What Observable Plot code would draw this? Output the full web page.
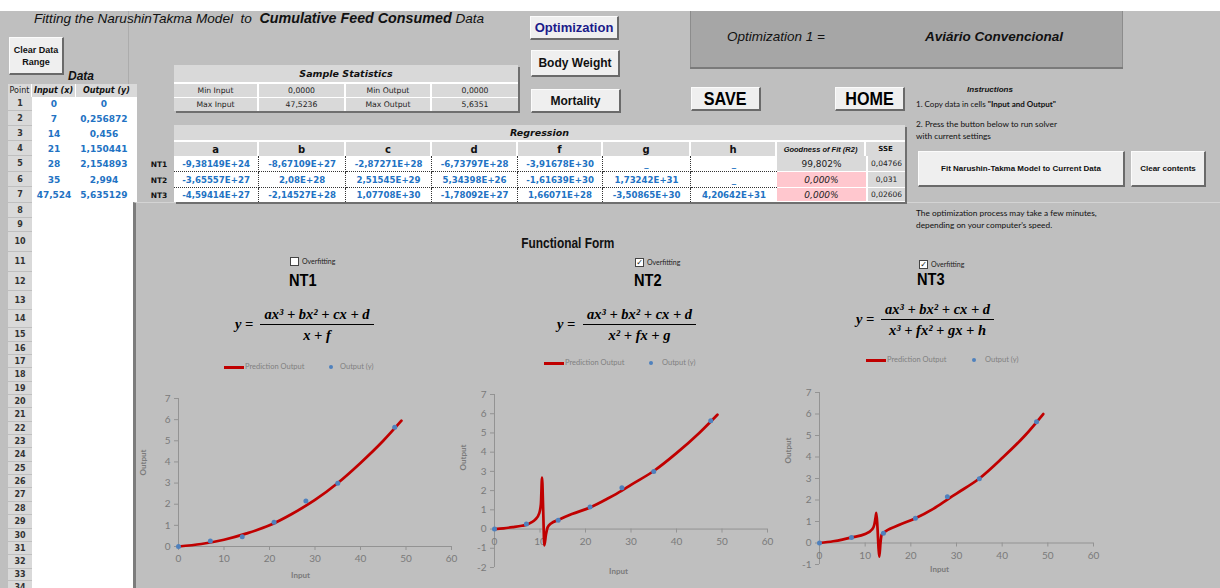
<!DOCTYPE html>
<html>
<head>
<meta charset="utf-8">
<script src="https://cdn.jsdelivr.net/npm/d3@7"></script>
<script src="https://cdn.jsdelivr.net/npm/@observablehq/plot@0.6"></script>
<style>
 html,body{margin:0;padding:0;background:#fff;}
 #page{position:relative;width:1220px;height:588px;overflow:hidden;background:#fff;}
 .a{position:absolute;box-sizing:border-box;white-space:nowrap;}
 .c{display:flex;align-items:center;justify-content:center;}
 .btn{background:#efefef;border-top:1px solid #fbfbfb;border-left:1px solid #fbfbfb;border-right:2px solid #6a6a6a;border-bottom:2px solid #6a6a6a;}
 .nr{display:inline-block;transform:scaleX(0.85);}
 .nl{display:inline-block;transform:scaleX(0.86);transform-origin:left center;}
</style>
</head>
<body>
<div id="page"></div>
<script>
// ---------------- data ----------------
const rowNumbers = d3.range(1, 35);
const inputX = [0, 7, 14, 21, 28, 35, 47.5236];
const outputY = [0, 0.256872, 0.456, 1.150441, 2.154893, 2.994, 5.635129];
const inputLabels = ["0", "7", "14", "21", "28", "35", "47,524"];
const outputLabels = ["0", "0,256872", "0,456", "1,150441", "2,154893", "2,994", "5,635129"];
const statNames = [["Min Input", "Min Output"], ["Max Input", "Max Output"]];
const statValues = [["0,0000", "0,0000"], ["47,5236", "5,6351"]];
const paramNames = ["a", "b", "c", "d", "f", "g", "h"];
const modelNames = ["NT1", "NT2", "NT3"];
const paramsNT1 = ["-9,38149E+24", "-8,67109E+27", "-2,87271E+28", "-6,73797E+28", "-3,91678E+30", "_", "_"];
const paramsNT2 = ["-3,65557E+27", "2,08E+28", "2,51545E+29", "5,34398E+26", "-1,61639E+30", "1,73242E+31", "_"];
const paramsNT3 = ["-4,59414E+27", "-2,14527E+28", "1,07708E+30", "-1,78092E+27", "1,66071E+28", "-3,50865E+30", "4,20642E+31"];
const goodnessOfFit = ["99,802%", "0,000%", "0,000%"];
const sseValues = ["0,04766", "0,031", "0,02606"];
const xTicks = [0, 10, 20, 30, 40, 50, 60];
const yTicksNT1 = [0, 1, 2, 3, 4, 5, 6, 7];
const yTicksNT2 = [-2, -1, 0, 1, 2, 3, 4, 5, 6, 7];
const yTicksNT3 = [-1, 0, 1, 2, 3, 4, 5, 6, 7];
const curveNT1X = [0, 5, 10, 15, 20, 25, 30, 35, 40, 45, 49];
const curveNT1Y = [0, 0.12, 0.32, 0.62, 1.0, 1.55, 2.2, 3.0, 3.95, 5.0, 5.95];
const curveNT2X = [0, 2, 4, 6, 7, 8, 9, 9.8, 10.2, 10.45, 10.7, 10.95, 11.3, 11.7, 12.5, 14, 17, 21, 25, 28, 30, 35, 40, 45, 49];
const curveNT2Y = [0, 0.04, 0.1, 0.17, 0.22, 0.33, 0.5, 0.8, 1.3, 2.68, 1.0, -0.85, -0.3, 0.1, 0.3, 0.47, 0.78, 1.12, 1.6, 2.0, 2.3, 3.02, 3.95, 5.0, 5.95];
const curveNT3X = [0, 3, 5, 7, 10, 11.5, 12, 12.25, 12.45, 12.7, 12.95, 13.1, 13.35, 13.6, 14, 17, 21, 25, 28, 30, 35, 40, 45, 49];
const curveNT3Y = [0, 0.08, 0.16, 0.26, 0.42, 0.63, 0.85, 1.15, 1.4, 0.7, -0.3, -0.63, 0.0, 0.38, 0.47, 0.8, 1.15, 1.6, 2.02, 2.3, 3.0, 3.95, 5.0, 6.0];

// ---------------- layout helpers ----------------
const page = document.getElementById("page");
function box(x, y, w, h, css = "", html = "", cls = "") {
  const d = document.createElement("div");
  d.className = "a " + cls;
  d.style.cssText = `left:${x}px;top:${y}px;width:${w}px;height:${h}px;` + css;
  d.innerHTML = html;
  page.appendChild(d);
  return d;
}
const VS = "'DejaVu Sans',Verdana,sans-serif";
const AR = "'Liberation Sans',Arial,sans-serif";
const NAR = "'Liberation Sans Narrow','Arial Narrow','Liberation Sans',sans-serif";
const CAL = "Lato,'Open Sans',sans-serif";
const SER = "'Liberation Serif','Times New Roman',serif";
const BLUE = "#2272c3";
const nr = t => `<span class="nr">${t}</span>`;
const nl = t => `<span class="nl">${t}</span>`;

// background
box(0, 11, 1220, 577, "background:#bfbfbf");
box(128, 11, 1, 73, "background:#acacac");

// title
box(34, 10, 520, 17, `font:italic 13.6px/17px ${AR};color:#111`,
  "Fitting the NarushinTakma Model&nbsp; to&nbsp; <b style='font-size:14.3px'>Cumulative Feed Consumed</b> Data");

// left panel
box(9, 37, 55, 38, `font:bold 9px/12px ${AR};text-align:center;flex-direction:column;color:#111`, "Clear Data<br>Range", "c btn");
box(68, 69, 40, 14, `font:bold italic 12px/14px ${AR};color:#111`, "Data");
box(8, 84, 129, 13, "background:#fff");
box(8, 84, 23, 13, `background:#d9d9d9;font:8px ${VS};color:#222`, "Point", "c");
box(32, 84, 43, 13, `background:#d9d9d9;font:bold italic 8px ${VS};color:#111`, "Input (x)", "c");
box(76, 84, 61, 13, `background:#d9d9d9;font:bold italic 8px ${VS};color:#111`, "Output (y)", "c");
box(32, 97, 105, 106, "background:#fff");
box(32, 203, 101, 385, "background:#fff");
box(133, 202, 1100, 400, "border-left:3px solid #7c7c7c;border-top:1px solid #d4d4d4");

const ROW_TOPS = [97,111,126,141,156,172,187,203,218,232,252,272,291,310,328,342,355,368,382,395,408,422,435,448,462,475,488,502,515,529,542,555,569,581,594];
rowNumbers.forEach((n, i) => {
  const h = ROW_TOPS[i + 1] - ROW_TOPS[i] - 1;
  box(8, ROW_TOPS[i], 24, h, `background:#d9d9d9;font:bold 8px ${VS};color:#333`, String(n), "c");
});
inputLabels.forEach((t, i) => {
  const h = ROW_TOPS[i + 1] - ROW_TOPS[i];
  box(32, ROW_TOPS[i], 44, h, `font:bold 9px ${VS};color:${BLUE}`, t, "c");
  box(74, ROW_TOPS[i], 60, h, `font:bold 9px ${VS};color:${BLUE}`, outputLabels[i], "c");
});

// sample statistics
box(174, 65, 344, 46, "background:#d9d9d9;box-shadow:2px 2px 0 #6f6f6f");
box(174, 65, 344, 19, `font:bold italic 9.5px ${VS};color:#111;border-bottom:2px solid #fff`, "Sample Statistics", "c");
const sCols = [174, 259, 346, 432, 518];
const sRows = [84, 98, 111];
for (let r = 0; r < 2; r++) {
  for (let c = 0; c < 4; c++) {
    const t = c % 2 === 0 ? statNames[r][c / 2] : statValues[r][(c - 1) / 2];
    const br = c < 3 ? "border-right:2px solid #fff;" : "";
    const bb = r === 0 ? "border-bottom:1px solid #fff;" : "";
    box(sCols[c], sRows[r], sCols[c + 1] - sCols[c], sRows[r + 1] - sRows[r], `${br}${bb}font:7.7px ${VS};color:#222`, t, "c");
  }
}

// regression table
const rCols = [174, 259, 346, 432, 518, 603, 691, 777, 866, 905];
const rRows = [156, 172, 188, 202];
box(174, 125, 731, 77, "background:#d9d9d9;box-shadow:2px 2px 0 #6f6f6f");
box(174, 125, 731, 17, `font:bold italic 9.5px ${VS};color:#111;border-bottom:2px solid #fff`, "Regression", "c");
const headers = [...paramNames, "Goodness of Fit (R2)", "SSE"];
headers.forEach((t, c) => {
  let font = `font:bold 10px ${VS};color:#111`;
  if (c === 7) font = `font:bold italic 7.5px ${AR};color:#111`;
  if (c === 8) font = `font:bold 7px ${VS};color:#111`;
  const br = c < 8 ? "border-right:2px solid #fff;" : "";
  box(rCols[c], 142, rCols[c + 1] - rCols[c], 14, br + font, t, "c");
});
const allParams = [paramsNT1, paramsNT2, paramsNT3];
modelNames.forEach((m, r) => {
  const y = rRows[r], h = rRows[r + 1] - rRows[r];
  box(146, y, 26, h, `font:bold 7.5px ${VS};color:#111`, m, "c");
  allParams[r].forEach((t, c) => {
    const br = c < 6 ? "border-right:1px dotted #333;" : "";
    const bb = r < 2 ? "border-bottom:1px dotted #333;" : "";
    box(rCols[c], y, rCols[c + 1] - rCols[c], h, `background:#fff;${br}${bb}font:bold 8.6px ${VS};color:${BLUE}`, t, "c");
  });
  const bg = r === 0 ? "#d9d9d9" : "#ffc7ce";
  const it = r === 0 ? "" : "italic ";
  box(rCols[7], y, rCols[8] - rCols[7], h, `background:${bg};border-bottom:1px solid #fff;font:${it}9px ${VS};color:#222`, goodnessOfFit[r], "c");
  box(rCols[8], y, rCols[9] - rCols[8], h, `background:#d9d9d9;border-left:2px solid #fff;border-bottom:1px solid #fff;font:7.5px ${VS};color:#222`, sseValues[r], "c");
});

// top buttons and box
box(530, 16, 89, 24, `font:bold 13px ${AR};color:#1b1b8a`, "Optimization", "c btn");
box(531, 50, 89, 27, `font:bold 12px ${AR};color:#111`, "Body Weight", "c btn");
box(531, 89, 90, 24, `font:bold 12px ${AR};color:#111`, "Mortality", "c btn");
box(690, 11, 433, 56, "background:#a6a6a6;border-left:1px solid #8c8c8c;border-right:1px solid #8c8c8c;box-shadow:0 2px 0 #7a7a7a");
box(727, 28, 130, 18, `font:italic 13.5px/18px ${AR};color:#111`, "Optimization 1 =");
box(925, 28, 190, 18, `font:bold italic 13.5px/18px ${AR};color:#111`, "Aviário Convencional");
box(691, 87, 70, 24, `font:bold 19px ${NAR};color:#000`, nr("SAVE"), "c btn");
box(835, 87, 70, 24, `font:bold 19px ${NAR};color:#000`, nr("HOME"), "c btn");

// instructions
box(940, 84, 100, 12, `font:bold italic 8px/12px ${AR};text-align:center;color:#111`, "Instructions");
box(916, 98, 260, 12, `font:8px/12px ${CAL};color:#111`, '1. Copy data in cells <b>"Input and Output"</b>');
box(916, 118, 260, 12, `font:8.3px/12px ${CAL};color:#111`, "2. Press the button below to run solver");
box(916, 130, 260, 12, `font:8.3px/12px ${CAL};color:#111`, "with current settings");
box(918, 151, 207, 36, `font:bold 8px ${AR};color:#111`, "Fit Narushin-Takma Model to Current Data", "c btn");
box(1131, 151, 75, 36, `font:bold 8px ${AR};color:#111`, "Clear contents", "c btn");
box(916, 207, 300, 12, `font:8.3px/12px ${CAL};color:#111`, "The optimization process may take a few minutes,");
box(916, 219, 300, 12, `font:8.3px/12px ${CAL};color:#111`, "depending on your computer's speed.");

// functional form
box(468, 235, 200, 16, `font:bold 14px/16px ${NAR};text-align:center;color:#111`, nr("Functional Form"));
function checkbox(x, y, checked) {
  box(x, y, 9, 9, `background:#fff;border:1px solid #444;font:bold 8px/7px ${VS};text-align:center;color:#111`, checked ? "✓" : "");
  box(x + 12, y - 2, 50, 12, `font:7px/12px ${CAL};color:#222`, "Overfitting");
}
checkbox(290, 257, false);
checkbox(635, 258, true);
checkbox(919, 260, true);
box(289, 271, 40, 20, `font:bold 17px/20px ${NAR};color:#000`, nl(modelNames[0]));
box(634, 271, 40, 20, `font:bold 17px/20px ${NAR};color:#000`, nl(modelNames[1]));
box(917, 270, 40, 20, `font:bold 17px/20px ${NAR};color:#000`, nl(modelNames[2]));

function formula(xY, xF, wF, yBar, num, den) {
  const f = `font:bold italic 14.5px/20px ${SER};color:#000;`;
  box(xY, yBar - 10, 26, 20, f, "y =");
  const d = box(xF, yBar - 20, wF, 41, f + "display:flex;flex-direction:column;align-items:center");
  d.innerHTML = `<div style="height:20px">${num}</div><div style="height:1px;width:100%;background:#000"></div><div style="height:20px">${den}</div>`;
}
formula(235, 260, 114, 324, "ax³ + bx² + cx + d", "x + f");
formula(557, 583, 113, 324, "ax³ + bx² + cx + d", "x² + fx + g");
formula(856, 881, 113, 319, "ax³ + bx² + cx + d", "x³ + fx² + gx + h");

function legend(xLine, y, xText, xDot, xText2) {
  box(xLine, y - 1.5, 20, 3, "background:#c00000");
  box(xText, y - 6, 80, 12, `font:7.5px/12px ${CAL};color:#7f7f7f`, "Prediction Output");
  box(xDot - 2, y - 2, 4, 4, "background:#4f81bd;border-radius:50%");
  box(xText2, y - 6, 60, 12, `font:7.5px/12px ${CAL};color:#7f7f7f`, "Output (y)");
}
legend(224, 367, 245, 331, 340);
legend(544, 363, 565, 651, 662);
legend(866, 360, 887, 974, 985);

// ---------------- charts ----------------
const AX = "#939393", TK = "#7a7a7a", RED = "#c00000", PT = "#4f81bd";
function chart(cfg) {
  const curve = cfg.cx.map((x, i) => ({x, y: cfg.cy[i]}));
  const pts = inputX.map((x, i) => ({x, y: outputY[i]}));
  const svg = Plot.plot({
    width: cfg.w, height: cfg.h,
    marginLeft: cfg.ml, marginRight: cfg.mr, marginTop: cfg.mt, marginBottom: cfg.mb,
    x: {domain: [0, 60], axis: null},
    y: {domain: cfg.yd, axis: null},
    style: {background: "transparent", overflow: "visible", fontFamily: CAL},
    marks: [
      Plot.ruleY([0], {stroke: AX}),
      Plot.ruleX([0], {stroke: AX}),
      Plot.ruleX(xTicks, {x: d => d, y1: 0, y2: 0, insetBottom: -4, stroke: AX}),
      Plot.ruleY(cfg.yt, {y: d => d, x1: 0, x2: 0, insetLeft: -4, stroke: AX}),
      Plot.text(xTicks, {x: d => d, y: 0, dy: 12.5, text: d => String(d), fill: TK, fontSize: 10}),
      Plot.text(cfg.yt, {x: 0, y: d => d, dx: -8, textAnchor: "end", text: d => String(d), fill: TK, fontSize: 10}),
      Plot.line(curve, {x: "x", y: "y", stroke: RED, strokeWidth: 2.7, curve: "monotone-x"}),
      Plot.dot(pts, {x: "x", y: "y", fill: PT, r: 2.5}),
      Plot.text(["Input"], {frameAnchor: "bottom", text: d => d, dx: cfg.ix, dy: cfg.iy, fill: TK, fontSize: 8, fontWeight: "bold"}),
      Plot.text(["Output"], {frameAnchor: "left", text: d => d, rotate: -90, dx: cfg.ox, dy: cfg.oy, fill: TK, fontSize: 8, fontWeight: "bold"})
    ]
  });
  const holder = box(cfg.left, cfg.top, cfg.w, cfg.h, "overflow:visible");
  holder.appendChild(svg);
}
chart({left: 137, top: 385, w: 320, h: 200, ml: 41, mr: 6, mt: 13, mb: 39, yd: [0, 7], yt: yTicksNT1,
  cx: curveNT1X, cy: curveNT1Y, ix: -14.5, iy: 31, ox: -35, oy: 3});
chart({left: 460, top: 385, w: 320, h: 195, ml: 34, mr: 13, mt: 9, mb: 13, yd: [-2, 7], yt: yTicksNT2,
  cx: curveNT2X, cy: curveNT2Y, ix: -12.5, iy: 6, ox: -31, oy: -10.5});
chart({left: 780, top: 385, w: 320, h: 195, ml: 39, mr: 7, mt: 7, mb: 16, yd: [-1, 7], yt: yTicksNT3,
  cx: curveNT3X, cy: curveNT3Y, ix: -17, iy: 7, ox: -31, oy: -15});
</script>
</body>
</html>
